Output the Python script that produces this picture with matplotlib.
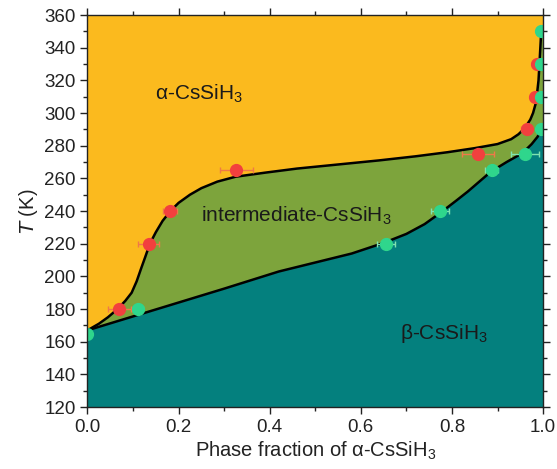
import numpy as np
import matplotlib.pyplot as plt
from matplotlib.ticker import MultipleLocator

# boundary alpha / intermediate (phase fraction, T)
upper_x = [0.0, 0.025, 0.045, 0.066, 0.083, 0.097, 0.108, 0.118, 0.127, 0.137, 0.15, 0.165,
           0.182, 0.2, 0.225, 0.25, 0.285, 0.325, 0.39, 0.46, 0.55, 0.64, 0.72, 0.79,
           0.85, 0.9, 0.93, 0.946, 0.957, 0.965, 0.972, 0.978, 0.983, 0.986, 0.99,
           0.992, 0.994, 0.996]
upper_T = [167, 171, 175, 180, 185, 190, 197, 205, 212, 220, 227, 234,
           240, 245, 250, 254, 258, 261, 263.5, 266, 268.5, 271, 273.5, 276,
           278.5, 281, 284, 287, 290, 293, 296, 300, 305, 310, 320,
           330, 340, 350]

# boundary intermediate / beta
lower_x = [0.0, 0.1, 0.2, 0.3, 0.42, 0.5, 0.58, 0.65, 0.7, 0.74, 0.775, 0.81, 0.835,
           0.86, 0.885, 0.92, 0.955, 0.975, 0.988, 0.995, 1.0]
lower_T = [167, 175.5, 184, 192.5, 203, 208.5, 214, 220.5, 226, 232, 239, 246.5, 252,
           258, 264, 270, 275.5, 281, 285.5, 289.5, 292]

# measured points
red_x = [0.07, 0.134, 0.181, 0.327, 0.857, 0.964, 0.982, 0.986]
red_T = [180, 220, 240, 265, 275, 290, 310, 330]
red_err = [0.025, 0.024, 0.015, 0.037, 0.035, 0.012, 0.01, 0.01]

green_x = [0.0, 0.111, 0.655, 0.774, 0.887, 0.96, 0.996, 0.996, 0.996, 0.996]
green_T = [165, 180, 220, 240, 265, 275, 290, 310, 330, 350]
green_err = [0.0, 0.01, 0.02, 0.02, 0.015, 0.03, 0.005, 0.005, 0.005, 0.005]

c_alpha = '#FBBA1E'
c_mid = '#7DA43C'
c_beta = '#04807E'

plt.rcParams['font.family'] = ['Liberation Sans', 'DejaVu Sans']
plt.rcParams['mathtext.fontset'] = 'custom'
plt.rcParams['mathtext.rm'] = 'Liberation Sans'

fig = plt.figure(figsize=(5.57, 4.69), dpi=100)
ax = fig.add_axes([0.157, 0.132, 0.818, 0.836])
ax.set_facecolor(c_alpha)

ax.fill_betweenx(upper_T, upper_x, 1.0, color=c_mid, lw=0)
ax.fill_between(lower_x, 120, lower_T, color=c_beta, lw=0)
ax.fill_between([0, 1], 120, 167, color=c_beta, lw=0)

ax.plot(upper_x, upper_T, color='black', lw=1.8, solid_joinstyle='round')
ax.plot(lower_x, lower_T, color='black', lw=1.8, solid_joinstyle='round')

ax.errorbar(red_x, red_T, xerr=red_err, fmt='o', color='#F2403E', ms=8.5,
            ecolor='#F07848', elinewidth=1, capsize=2.5, capthick=1)
ax.errorbar(green_x, green_T, xerr=green_err, fmt='o', color='#2FD68C', ms=8.5,
            ecolor='#7FE3B0', elinewidth=1, capsize=2.5, capthick=1)

ax.text(0.245, 312, '\u03b1-CsSiH$_3$', fontsize=15, ha='center', va='center', color='#1a1a1a')
ax.text(0.458, 237, 'intermediate-CsSiH$_3$', fontsize=15, ha='center', va='center', color='#1a1a1a')
ax.text(0.783, 165, '\u03b2-CsSiH$_3$', fontsize=15, ha='center', va='center', color='#1a1a1a')

ax.set_xlim(0, 1.0)
ax.set_ylim(120, 360)
ax.xaxis.set_major_locator(MultipleLocator(0.2))
ax.xaxis.set_minor_locator(MultipleLocator(0.1))
ax.yaxis.set_major_locator(MultipleLocator(20))
ax.yaxis.set_minor_locator(MultipleLocator(10))
ax.xaxis.set_major_formatter(plt.FormatStrFormatter('%.1f'))
ax.tick_params(which='both', direction='out', top=True, right=True,
               labelsize=13.5, colors='#222222')
ax.tick_params(which='major', length=5, width=1)
ax.tick_params(which='minor', length=3, width=1)
for s in ax.spines.values():
    s.set_linewidth(1)
    s.set_color('#222222')

ax.set_xlabel('Phase fraction of \u03b1-CsSiH$_3$', fontsize=14.5, color='#222222', labelpad=3)
ax.set_ylabel('$\\mathit{T}$ (K)', fontsize=14.5, color='#222222', labelpad=3)

fig.savefig('out.png', dpi=100)
